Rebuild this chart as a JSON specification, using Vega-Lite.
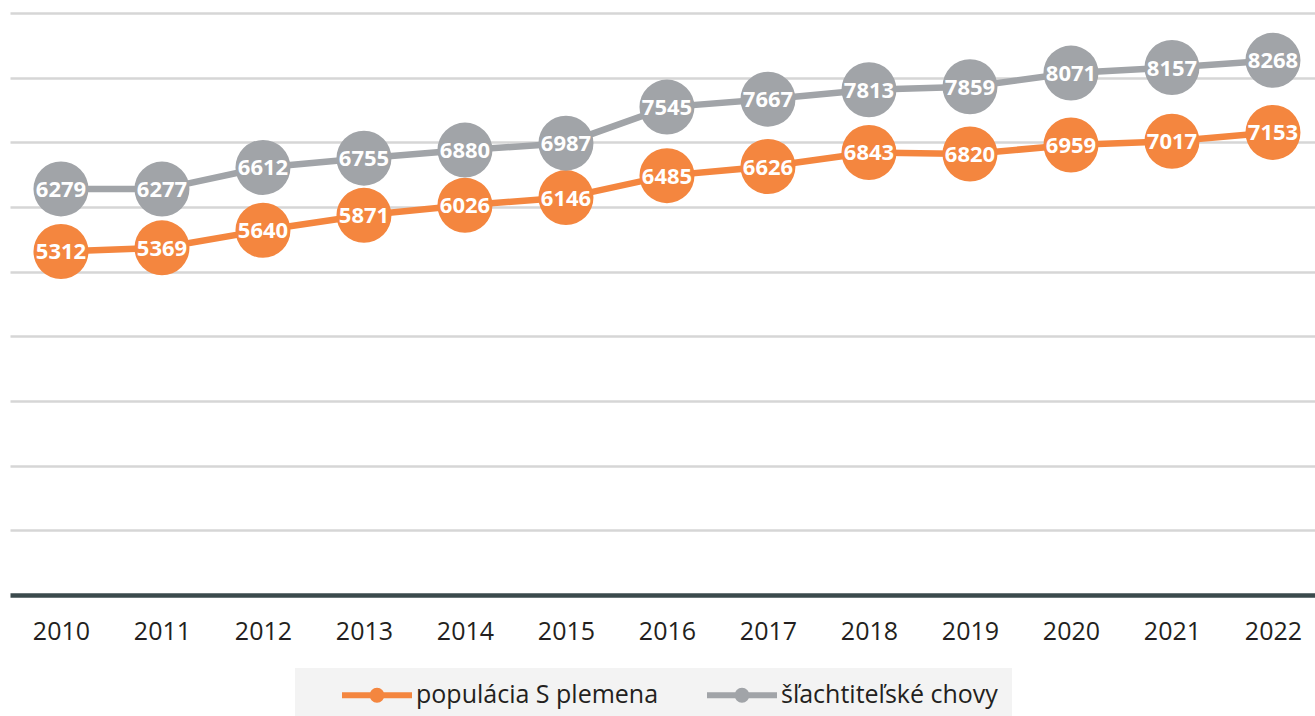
{
  "$schema": "https://vega.github.io/schema/vega-lite/v6.json",
  "width": 1305,
  "height": 582,
  "autosize": {"type": "none"},
  "padding": {"left": 10, "top": 13, "right": 0, "bottom": 121},
  "background": "#ffffff",
  "config": {
    "view": {"stroke": null},
    "font": "Open Sans",
    "legend": {
      "orient": "none",
      "legendX": 285,
      "legendY": 655,
      "direction": "horizontal",
      "fillColor": "#f3f3f3",
      "strokeColor": null,
      "padding": 14,
      "labelFont": "Open Sans",
      "labelFontSize": 25,
      "labelColor": "#231f20",
      "labelLimit": 500,
      "labelOffset": 26,
      "columnPadding": 15,
      "symbolType": "M-3.5,0L3.5,0M-0.45,0A0.45,0.45,0,1,1,0.45,0A0.45,0.45,0,1,1,-0.45,0Z",
      "symbolSize": 400,
      "symbolStrokeWidth": 6,
      "symbolOffset": 55
    }
  },
  "data": {
    "values": [
      {"year": "2010", "series": "populácia S plemena", "value": 5312},
      {"year": "2011", "series": "populácia S plemena", "value": 5369},
      {"year": "2012", "series": "populácia S plemena", "value": 5640},
      {"year": "2013", "series": "populácia S plemena", "value": 5871},
      {"year": "2014", "series": "populácia S plemena", "value": 6026},
      {"year": "2015", "series": "populácia S plemena", "value": 6146},
      {"year": "2016", "series": "populácia S plemena", "value": 6485},
      {"year": "2017", "series": "populácia S plemena", "value": 6626},
      {"year": "2018", "series": "populácia S plemena", "value": 6843},
      {"year": "2019", "series": "populácia S plemena", "value": 6820},
      {"year": "2020", "series": "populácia S plemena", "value": 6959},
      {"year": "2021", "series": "populácia S plemena", "value": 7017},
      {"year": "2022", "series": "populácia S plemena", "value": 7153},
      {"year": "2010", "series": "šľachtiteľské chovy", "value": 6279},
      {"year": "2011", "series": "šľachtiteľské chovy", "value": 6277},
      {"year": "2012", "series": "šľachtiteľské chovy", "value": 6612},
      {"year": "2013", "series": "šľachtiteľské chovy", "value": 6755},
      {"year": "2014", "series": "šľachtiteľské chovy", "value": 6880},
      {"year": "2015", "series": "šľachtiteľské chovy", "value": 6987},
      {"year": "2016", "series": "šľachtiteľské chovy", "value": 7545},
      {"year": "2017", "series": "šľachtiteľské chovy", "value": 7667},
      {"year": "2018", "series": "šľachtiteľské chovy", "value": 7813},
      {"year": "2019", "series": "šľachtiteľské chovy", "value": 7859},
      {"year": "2020", "series": "šľachtiteľské chovy", "value": 8071},
      {"year": "2021", "series": "šľachtiteľské chovy", "value": 8157},
      {"year": "2022", "series": "šľachtiteľské chovy", "value": 8268}
    ]
  },
  "encoding": {
    "x": {
      "field": "year",
      "type": "ordinal",
      "scale": {"type": "point", "padding": 0.4604, "align": 0.548},
      "sort": null,
      "axis": {
        "title": null,
        "labelAngle": 0,
        "domain": false,
        "ticks": false,
        "grid": false,
        "labelFont": "Open Sans",
        "labelFontSize": 25,
        "labelColor": "#231f20",
        "labelPadding": 24
      }
    },
    "y": {
      "field": "value",
      "type": "quantitative",
      "scale": {"domain": [0, 9000], "nice": false, "zero": true},
      "axis": {
        "title": null,
        "labels": false,
        "ticks": false,
        "domain": false,
        "values": [0, 1000, 2000, 3000, 4000, 5000, 6000, 7000, 8000, 9000],
        "gridColor": {"condition": {"test": "datum.value === 0", "value": "#3b4a4c"}, "value": "#d6d6d6"},
        "gridWidth": {"condition": {"test": "datum.value === 0", "value": 4.5}, "value": 2.5}
      }
    },
    "color": {
      "field": "series",
      "type": "nominal",
      "sort": ["populácia S plemena", "šľachtiteľské chovy"],
      "scale": {"domain": ["populácia S plemena", "šľachtiteľské chovy"], "range": ["#f4863f", "#a1a4a8"]},
      "legend": {
        "title": null,
        "encode": {
          "symbols": {
            "update": {
              "fill": {"scale": "color", "field": "value"},
              "stroke": {"scale": "color", "field": "value"}
            }
          }
        }
      }
    }
  },
  "layer": [
    {"mark": {"type": "line", "strokeWidth": 6.5}},
    {"mark": {"type": "point", "filled": true, "size": 3025, "opacity": 1, "shape": "circle"}},
    {
      "mark": {"type": "text", "color": "#ffffff", "font": "Open Sans", "fontWeight": "bold", "fontSize": 22, "baseline": "middle", "align": "center", "dy": 1},
      "encoding": {"text": {"field": "value", "type": "quantitative", "format": "d"}, "color": {"value": "#ffffff"}}
    }
  ]
}
